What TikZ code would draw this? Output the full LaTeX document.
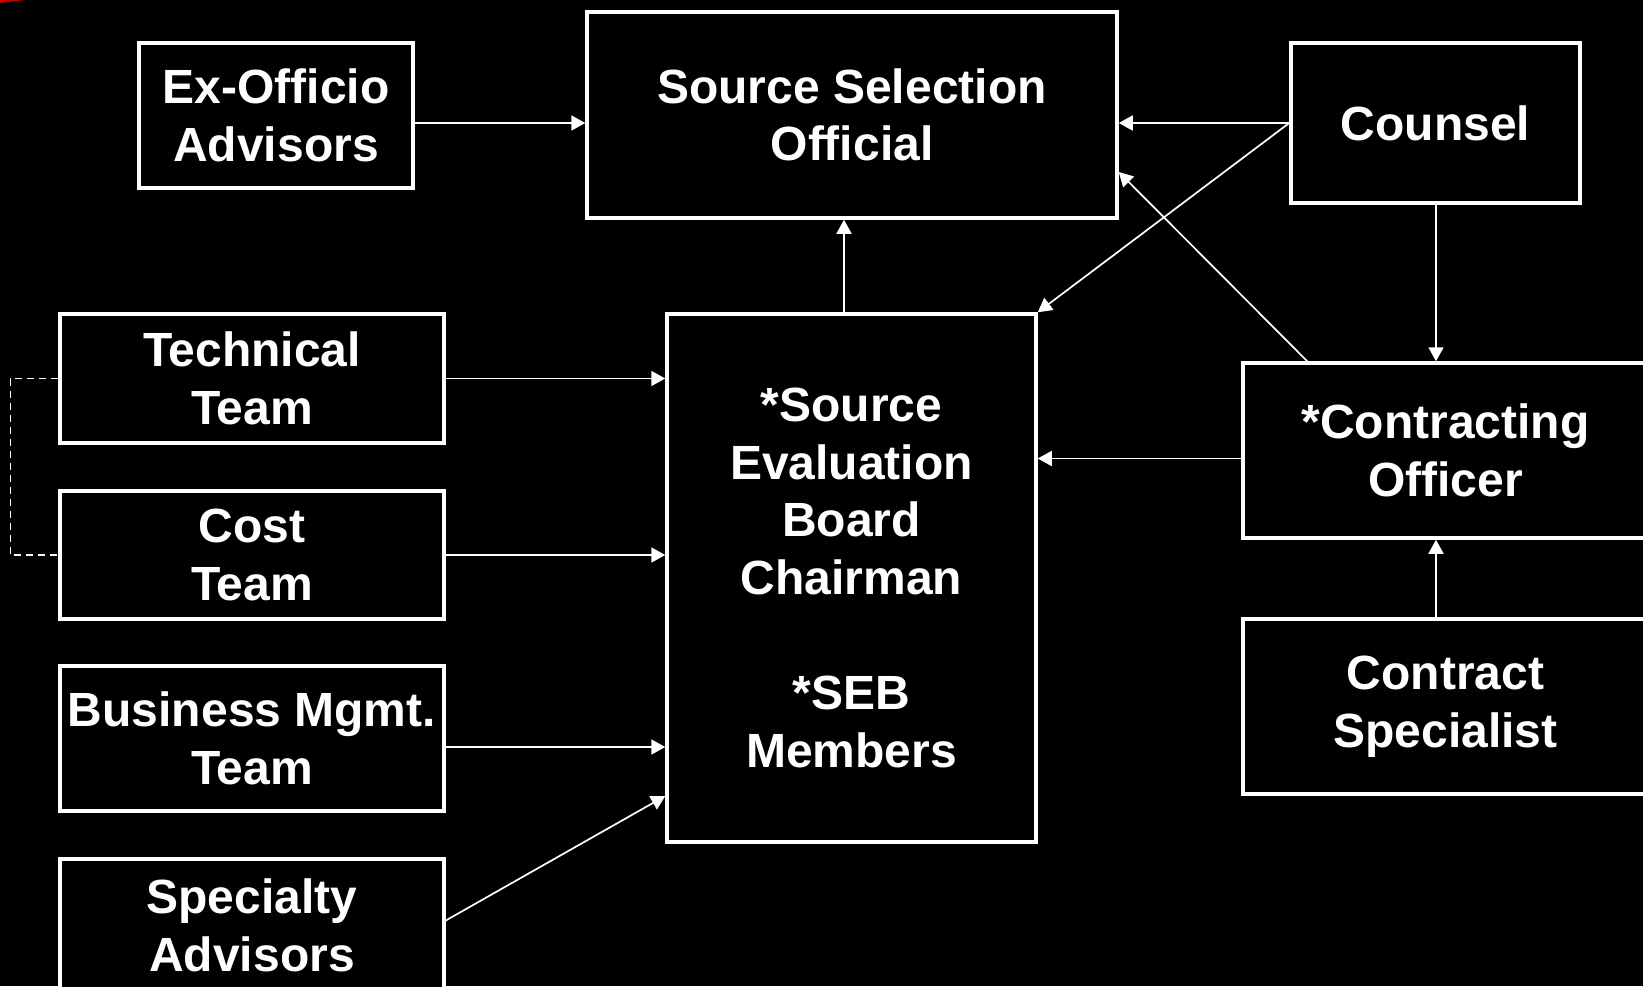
\documentclass[tikz,border=0pt]{standalone}
\usepackage{fontspec}
\setmainfont{Liberation Sans}
\usetikzlibrary{arrows.meta,calc}
\begin{document}
\begin{tikzpicture}[x=0.5pt,y=-0.5pt,
 box/.style={draw=white,line width=1.75pt,fill=black,text=white,align=center,inner sep=0pt,font=\bfseries\fontsize{24pt}{28.8pt}\selectfont},
 arr/.style={draw=white,line width=0.85pt,-{Triangle[length=7pt,width=7.5pt]}},
 dashline/.style={draw=white,line width=0.75pt,dash pattern=on 3.5pt off 2.5pt}]
\useasboundingbox (0,0) rectangle (1643,986);
\fill[black] (0,0) rectangle (1643,986);
\begin{scope}
\clip (0,0) rectangle (1643,986);
\fill[red!75!black] (0,0) -- (26,0) -- (0,3) -- cycle;
\node[box,minimum width=137pt,minimum height=72.5pt] (exo) at (276,115.5) {Ex-Officio\\Advisors};
\node[box,minimum width=265pt,minimum height=103pt] (sso) at (852,115) {Source Selection\\Official};
\node[box,minimum width=144.5pt,minimum height=80pt] (counsel) at (1435.5,123) {Counsel};
\node[box,minimum width=192pt,minimum height=64.5pt] (tech) at (252,378.5) {Technical\\Team};
\node[box,minimum width=192pt,minimum height=64pt] (cost) at (252,555) {Cost\\Team};
\node[box,minimum width=192pt,minimum height=72.5pt] (bus) at (252,738.5) {Business Mgmt.\\Team};
\node[box,minimum width=192pt,minimum height=66.5pt] (spec) at (252,925.5) {Specialty\\Advisors};
\node[box,minimum width=184.5pt,minimum height=264pt] (sebs) at (851.5,578) {*Source\\Evaluation\\Board\\Chairman\\[28.8pt]{}*SEB\\Members};
\node[box,minimum width=202.5pt,minimum height=87.5pt] (co) at (1445.5,450.5) {*Contracting\\Officer};
\node[box,minimum width=202.5pt,minimum height=87.5pt] (cs) at (1445.5,706.5) {Contract\\Specialist};
\coordinate (a1) at ($(exo.east)+(0,7.5)$);
\draw[arr] (a1) -- (a1 -| sso.west);
\draw[arr] (counsel.west) -- (counsel.west -| sso.east);
\draw[arr] (counsel.west) -- (sebs.north east);
\coordinate (a2) at ($(co.north west)+(66,0)$);
\coordinate (a3) at ($(sso.east)+(0,57)$);
\draw[arr] (a2) -- (a3);
\coordinate (a4) at ($(counsel.south)+(0.5,0)$);
\draw[arr] (a4) -- (a4 |- co.north);
\draw[arr] (a4 |- cs.north) -- (a4 |- co.south);
\coordinate (a5) at ($(co.west)+(0,8)$);
\draw[arr] (a5) -- (a5 -| sebs.east);
\coordinate (a6) at ($(sebs.north)+(-7.5,0)$);
\draw[arr] (a6) -- (a6 |- sso.south);
\draw[arr] (tech.east) -- (tech.east -| sebs.west);
\draw[arr] (cost.east) -- (cost.east -| sebs.west);
\coordinate (a7) at ($(bus.east)+(0,8.5)$);
\draw[arr] (a7) -- (a7 -| sebs.west);
\coordinate (a8) at ($(spec.east)+(0,-5)$);
\coordinate (a9) at ($(sebs.west)+(0,218)$);
\draw[arr] (a8) -- (a9);
\draw[dashline] (tech.west) -- ++(-48,0) |- (cost.west);
\end{scope}
\end{tikzpicture}
\end{document}
